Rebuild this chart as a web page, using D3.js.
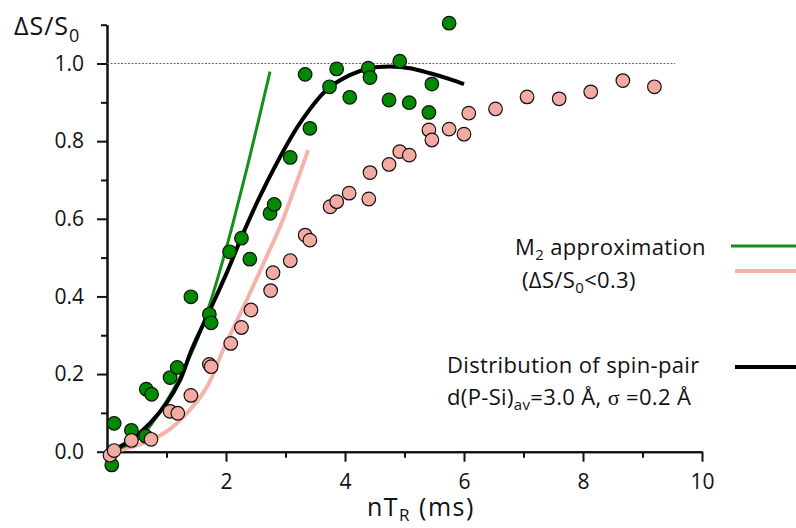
<!doctype html>
<html>
<head>
    <style>
        body { margin: 0; background: #fff; }
        text { font-family: "Open Sans", Lato, sans-serif; fill: #111; }
        .tick text { font-size: 21px; font-family: "Open Sans", sans-serif; }
        .axis path, .axis line { stroke: #111; stroke-width: 2px; }
        .legend { font-size: 22px; letter-spacing: 0.35px; }
    </style>
    <script src="https://d3js.org/d3.v7.min.js"></script>
</head>
<body>
<svg width="796" height="528"></svg>
<script>

    // measured points (nT_R in ms, dS/S0)
    var greenX = [0.12, 0.08, 0.41, 0.65, 0.66, 0.75, 1.06, 1.18, 1.41, 1.72, 1.75, 2.06, 2.26, 2.40, 2.74, 2.81,
                  3.08, 3.33, 3.41, 3.74, 3.86, 4.08, 4.39, 4.42, 4.92, 4.74, 5.08, 5.46, 5.41, 5.75];
    var greenY = [0.073, -0.034, 0.055, 0.040, 0.161, 0.148, 0.191, 0.217, 0.399, 0.354, 0.332, 0.515, 0.550, 0.496, 0.614, 0.637,
                  0.758, 0.972, 0.833, 0.940, 0.986, 0.913, 0.988, 0.964, 1.006, 0.906, 0.899, 0.947, 0.874, 1.104];

    var pinkX = [0.05, 0.12, 0.41, 0.74, 1.06, 1.19, 1.41, 1.72, 1.75, 2.08, 2.26, 2.42, 2.75, 2.79, 3.08, 3.33, 3.41,
                 3.75, 3.86, 4.07, 4.40, 4.42, 4.74, 4.92, 5.08, 5.41, 5.46, 5.75, 6.00, 6.08, 6.53, 7.06, 7.60, 8.13, 8.67, 9.20];
    var pinkY = [-0.009, 0.003, 0.029, 0.032, 0.104, 0.099, 0.145, 0.225, 0.219, 0.279, 0.320, 0.365, 0.415, 0.461, 0.492, 0.558, 0.545,
                 0.631, 0.644, 0.666, 0.651, 0.719, 0.740, 0.773, 0.764, 0.829, 0.803, 0.831, 0.818, 0.872, 0.883, 0.914, 0.909, 0.927, 0.956, 0.940];

    // M2 approximation curves
    var m2GreenX = [0, 0.50, 1.00, 1.48, 1.73, 1.96, 2.12, 2.40, 2.74];
    var m2GreenY = [0, 0.030, 0.130, 0.275, 0.382, 0.500, 0.590, 0.760, 0.979];
    var m2PinkX = [0, 0.22, 0.61, 1.00, 1.34, 1.68, 1.95, 2.35, 2.68, 2.91, 3.38];
    var m2PinkY = [0, 0.004, 0.022, 0.052, 0.099, 0.167, 0.262, 0.391, 0.502, 0.580, 0.777];

    // spin-pair distribution fit
    var distX = [0, 0.22, 0.44, 0.72, 1.00, 1.23, 1.42, 1.73, 2.01, 2.29, 2.54, 2.88, 3.24, 3.69, 4.08, 4.42, 4.76, 5.09, 5.43, 5.76, 6.00];
    var distY = [0, 0.013, 0.035, 0.073, 0.125, 0.185, 0.262, 0.365, 0.460, 0.563, 0.648, 0.751, 0.846, 0.932, 0.970, 0.988, 0.992, 0.988, 0.975, 0.960, 0.947];

    var xMajor = [2, 4, 6, 8, 10],
        xMinor = [1, 3, 5, 7, 9],
        yMajor = [0, 0.2, 0.4, 0.6, 0.8, 1.0],
        yMinor = [0.1, 0.3, 0.5, 0.7, 0.9, 1.1];

    function zip(xs, ys) {
        return xs.map(function(v, i) { return [v, ys[i]]; });
    }

    var svg = d3.select("svg");

    var x = d3.scaleLinear().domain([0, 10]).range([107, 702]),
        y = d3.scaleLinear().domain([0, 1.1]).range([451.7, 24.7]);

    // axes: minor ticks first, then labelled major ticks
    svg.append("g").attr("class", "axis")
       .attr("transform", "translate(0,451.7)")
       .call(d3.axisBottom(x).tickValues(xMinor).tickSize(6).tickSizeOuter(0).tickFormat(""));
    svg.append("g").attr("class", "axis")
       .attr("transform", "translate(0,451.7)")
       .call(d3.axisBottom(x).tickValues(xMajor).tickSize(10).tickSizeOuter(0).tickPadding(12).tickFormat(d3.format("d")));

    svg.append("g").attr("class", "axis")
       .attr("transform", "translate(107,0)")
       .call(d3.axisLeft(y).tickValues(yMinor).tickSize(6).tickSizeOuter(0).tickFormat(""));
    svg.append("g").attr("class", "axis")
       .attr("transform", "translate(107,0)")
       .call(d3.axisLeft(y).tickValues(yMajor).tickSize(10).tickSizeOuter(0).tickPadding(13).tickFormat(d3.format(".1f")));

    // dotted reference at 1.0
    svg.append("line")
       .attr("x1", x(0)).attr("x2", x(9.55))
       .attr("y1", y(1)).attr("y2", y(1))
       .attr("stroke", "#666").attr("stroke-width", 1)
       .attr("stroke-dasharray", "2,1.5");

    var line = d3.line()
        .x(function(d) { return x(d[0]); })
        .y(function(d) { return y(d[1]); })
        .curve(d3.curveCatmullRom);

    svg.append("path").datum(zip(m2PinkX, m2PinkY))
       .attr("d", line).attr("fill", "none")
       .attr("stroke", "#f4b3ab").attr("stroke-width", 4);
    svg.append("path").datum(zip(m2GreenX, m2GreenY))
       .attr("d", line).attr("fill", "none")
       .attr("stroke", "#13901a").attr("stroke-width", 3);
    svg.append("path").datum(zip(distX, distY))
       .attr("d", line).attr("fill", "none")
       .attr("stroke", "#000").attr("stroke-width", 4);

    svg.selectAll(".gpt")
       .data(zip(greenX, greenY))
       .enter().append("circle")
       .attr("class", "gpt")
       .attr("cx", function(d) { return x(d[0]); })
       .attr("cy", function(d) { return y(d[1]); })
       .attr("r", 6.8)
       .attr("fill", "#008a00")
       .attr("stroke", "#111").attr("stroke-width", 1.2);

    svg.selectAll(".ppt")
       .data(zip(pinkX, pinkY))
       .enter().append("circle")
       .attr("class", "ppt")
       .attr("cx", function(d) { return x(d[0]); })
       .attr("cy", function(d) { return y(d[1]); })
       .attr("r", 6.8)
       .attr("fill", "#f2aaa2")
       .attr("stroke", "#111").attr("stroke-width", 1.2);

    // axis titles
    var yt = svg.append("text").attr("x", 14).attr("y", 35).attr("font-size", "25px")
       .style("letter-spacing", "1px");
    yt.append("tspan").text("ΔS/S");
    yt.append("tspan").attr("font-size", "18px").attr("dy", 7).text("0");

    var xt = svg.append("text").attr("x", 367).attr("y", 516).attr("font-size", "25px")
       .style("letter-spacing", "1.5px");
    xt.append("tspan").text("nT");
    xt.append("tspan").attr("font-size", "17px").attr("dy", 5).text("R");
    xt.append("tspan").attr("dy", -5).text(" (ms)");

    // legend
    var t1 = svg.append("text").attr("class", "legend").attr("x", 515).attr("y", 255);
    t1.append("tspan").text("M");
    t1.append("tspan").attr("font-size", "15px").attr("dy", 5).text("2");
    t1.append("tspan").attr("dy", -5).text(" approximation");

    var t2 = svg.append("text").attr("class", "legend").attr("x", 522).attr("y", 288);
    t2.append("tspan").text("(ΔS/S");
    t2.append("tspan").attr("font-size", "15px").attr("dy", 5).text("0");
    t2.append("tspan").attr("dy", -5).text("<0.3)");

    svg.append("text").attr("class", "legend").attr("x", 447).attr("y", 373)
       .text("Distribution of spin-pair");

    var t4 = svg.append("text").attr("class", "legend").attr("x", 447).attr("y", 405);
    t4.append("tspan").text("d(P-Si)");
    t4.append("tspan").attr("font-size", "15px").attr("dy", 5).text("av");
    t4.append("tspan").attr("dy", -5).text("=3.0 Å, ");
    t4.append("tspan").attr("font-family", "Liberation Serif, serif").text("σ");
    t4.append("tspan").text(" =0.2 Å");

    svg.append("line").attr("x1", 731).attr("x2", 796).attr("y1", 246).attr("y2", 246)
       .attr("stroke", "#13901a").attr("stroke-width", 3);
    svg.append("line").attr("x1", 735).attr("x2", 796).attr("y1", 271).attr("y2", 271)
       .attr("stroke", "#f4b3ab").attr("stroke-width", 4);
    svg.append("line").attr("x1", 735).attr("x2", 796).attr("y1", 367).attr("y2", 367)
       .attr("stroke", "#000").attr("stroke-width", 4);

</script>
</body>
</html>
